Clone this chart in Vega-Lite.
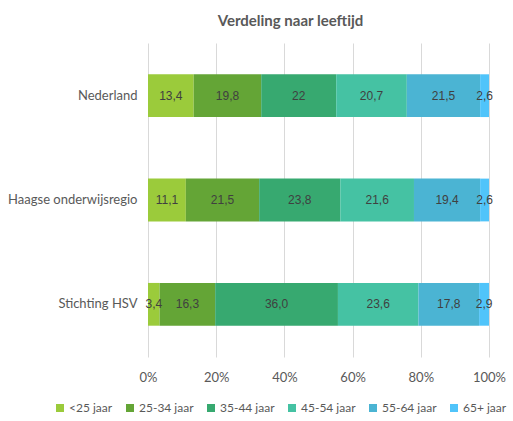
{
  "$schema": "https://vega.github.io/schema/vega-lite/v6.json",
  "width": 341,
  "height": 314,
  "autosize": "none",
  "padding": {"left": 148, "top": 43, "right": 24, "bottom": 64},
  "background": "white",
  "title": {
    "text": "Verdeling naar leeftijd",
    "font": "Lato",
    "fontSize": 15,
    "fontWeight": "bold",
    "color": "#595959",
    "anchor": "middle",
    "dx": -28,
    "offset": 14
  },
  "config": {"view": {"stroke": null}},
  "data": {
    "values": [
      {"groep": "Nederland", "leeftijd": "<25 jaar", "waarde": 13.4, "label": "13,4", "volg": 1},
      {"groep": "Nederland", "leeftijd": "25-34 jaar", "waarde": 19.8, "label": "19,8", "volg": 2},
      {"groep": "Nederland", "leeftijd": "35-44 jaar", "waarde": 22.0, "label": "22", "volg": 3},
      {"groep": "Nederland", "leeftijd": "45-54 jaar", "waarde": 20.7, "label": "20,7", "volg": 4},
      {"groep": "Nederland", "leeftijd": "55-64 jaar", "waarde": 21.5, "label": "21,5", "volg": 5},
      {"groep": "Nederland", "leeftijd": "65+ jaar", "waarde": 2.6, "label": "2,6", "volg": 6},
      {"groep": "Haagse onderwijsregio", "leeftijd": "<25 jaar", "waarde": 11.1, "label": "11,1", "volg": 1},
      {"groep": "Haagse onderwijsregio", "leeftijd": "25-34 jaar", "waarde": 21.5, "label": "21,5", "volg": 2},
      {"groep": "Haagse onderwijsregio", "leeftijd": "35-44 jaar", "waarde": 23.8, "label": "23,8", "volg": 3},
      {"groep": "Haagse onderwijsregio", "leeftijd": "45-54 jaar", "waarde": 21.6, "label": "21,6", "volg": 4},
      {"groep": "Haagse onderwijsregio", "leeftijd": "55-64 jaar", "waarde": 19.4, "label": "19,4", "volg": 5},
      {"groep": "Haagse onderwijsregio", "leeftijd": "65+ jaar", "waarde": 2.6, "label": "2,6", "volg": 6},
      {"groep": "Stichting HSV", "leeftijd": "<25 jaar", "waarde": 3.4, "label": "3,4", "volg": 1},
      {"groep": "Stichting HSV", "leeftijd": "25-34 jaar", "waarde": 16.3, "label": "16,3", "volg": 2},
      {"groep": "Stichting HSV", "leeftijd": "35-44 jaar", "waarde": 36.0, "label": "36,0", "volg": 3},
      {"groep": "Stichting HSV", "leeftijd": "45-54 jaar", "waarde": 23.6, "label": "23,6", "volg": 4},
      {"groep": "Stichting HSV", "leeftijd": "55-64 jaar", "waarde": 17.8, "label": "17,8", "volg": 5},
      {"groep": "Stichting HSV", "leeftijd": "65+ jaar", "waarde": 2.9, "label": "2,9", "volg": 6}
    ]
  },
  "transform": [
    {"window": [{"op": "sum", "field": "waarde", "as": "eind"}], "groupby": ["groep"], "sort": [{"field": "volg"}], "frame": [null, 0]},
    {"calculate": "datum.eind - datum.waarde", "as": "begin"},
    {"calculate": "datum.eind - datum.waarde / 2", "as": "midden"}
  ],
  "encoding": {
    "y": {
      "field": "groep",
      "type": "nominal",
      "sort": ["Nederland", "Haagse onderwijsregio", "Stichting HSV"],
      "scale": {"paddingInner": 0.59, "paddingOuter": 0.3},
      "axis": {
        "title": null,
        "domain": false,
        "ticks": false,
        "labelPadding": 11,
        "labelFont": "Lato",
        "labelFontSize": 13,
        "labelColor": "#595959",
        "labelLimit": 200
      }
    }
  },
  "layer": [
    {
      "mark": {"type": "bar"},
      "encoding": {
        "x": {
          "field": "begin",
          "type": "quantitative",
          "scale": {"domain": [0, 100]},
          "axis": {
            "title": null,
            "values": [0, 20, 40, 60, 80, 100],
            "labelExpr": "datum.value + '%'",
            "labelFlush": false,
            "domain": false,
            "ticks": false,
            "grid": true,
            "gridColor": "#D9D9D9",
            "gridWidth": 1,
            "labelPadding": 14,
            "labelFont": "Lato",
            "labelFontSize": 13,
            "labelColor": "#595959"
          }
        },
        "x2": {"field": "eind"},
        "color": {
          "field": "leeftijd",
          "type": "nominal",
          "scale": {
            "domain": ["<25 jaar", "25-34 jaar", "35-44 jaar", "45-54 jaar", "55-64 jaar", "65+ jaar"],
            "range": ["#9BCB3B", "#64A536", "#37A970", "#45C2A3", "#4BB4D3", "#50C4FA"]
          },
          "legend": {
            "title": null,
            "orient": "none",
            "direction": "horizontal",
            "legendX": -94,
            "legendY": 359,
            "symbolType": "square",
            "symbolSize": 64,
            "symbolStrokeWidth": 0,
            "labelFont": "Lato",
            "labelFontSize": 12,
            "labelColor": "#595959",
            "labelOffset": 3,
            "columnPadding": 11
          }
        }
      }
    },
    {
      "mark": {"type": "text", "font": "Liberation Sans", "fontSize": 12, "color": "#404040", "align": "center", "baseline": "middle"},
      "encoding": {
        "x": {"field": "midden", "type": "quantitative"},
        "text": {"field": "label", "type": "nominal"}
      }
    }
  ]
}
